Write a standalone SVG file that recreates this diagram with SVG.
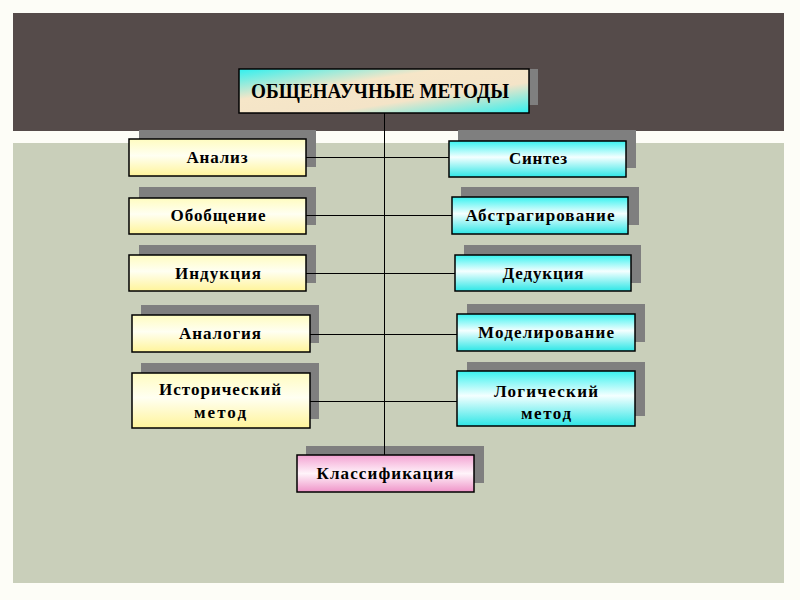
<svg xmlns="http://www.w3.org/2000/svg" width="800" height="600" viewBox="0 0 800 600">
<defs>
<linearGradient id="gy" x1="0" y1="0" x2="0" y2="1">
<stop offset="0" stop-color="#fffcc0"/><stop offset="0.45" stop-color="#fffff2"/><stop offset="1" stop-color="#fff49a"/>
</linearGradient>
<linearGradient id="gc" x1="0" y1="0" x2="0" y2="1">
<stop offset="0" stop-color="#38f2f0"/><stop offset="0.45" stop-color="#f4ffff"/><stop offset="1" stop-color="#2ee6e6"/>
</linearGradient>
<linearGradient id="gp" x1="0" y1="0" x2="0" y2="1">
<stop offset="0" stop-color="#f3a2d2"/><stop offset="0.5" stop-color="#fff4fa"/><stop offset="1" stop-color="#ef94c8"/>
</linearGradient>
<linearGradient id="gt" x1="0" y1="0" x2="1" y2="1">
<stop offset="0" stop-color="#2ff0f0"/><stop offset="0.35" stop-color="#f6e6c8"/><stop offset="0.65" stop-color="#f4e4c8"/><stop offset="1" stop-color="#2ff0f0"/>
</linearGradient>
</defs>
<style>
.sh{fill:#7f7f7f}
.bx{stroke:#000;stroke-width:1.5}
.y{fill:url(#gy)}
.c{fill:url(#gc)}
.p{fill:url(#gp)}
.t{font-family:"Liberation Serif","Times New Roman",serif;font-weight:bold;font-size:17px;fill:#000;text-anchor:middle}
.ln{stroke:#000;stroke-width:1;fill:none}
</style>
<rect x="0" y="0" width="800" height="600" fill="#fdfdf7"/>
<rect x="13" y="13" width="771" height="118" fill="#554b4a"/>
<rect x="13" y="143" width="771" height="440" fill="#c9cfba"/>

<g id="shadows">
<rect class="sh" x="247" y="69" width="291" height="36"/>
<rect class="sh" x="139" y="130" width="177" height="37"/>
<rect class="sh" x="139" y="187" width="177" height="38"/>
<rect class="sh" x="139" y="245" width="177" height="38"/>
<rect class="sh" x="141" y="305" width="178" height="38"/>
<rect class="sh" x="141" y="363" width="178" height="56"/>
<rect class="sh" x="458" y="130" width="178" height="38"/>
<rect class="sh" x="461" y="187" width="178" height="38"/>
<rect class="sh" x="464" y="245" width="177" height="38"/>
<rect class="sh" x="467" y="304" width="178" height="38"/>
<rect class="sh" x="467" y="362" width="178" height="54"/>
<rect class="sh" x="306" y="446" width="178" height="37"/>
</g>

<g id="connectors">
<line class="ln" x1="384.5" y1="113" x2="384.5" y2="455"/>
<line class="ln" x1="306" y1="157.5" x2="449" y2="157.5"/>
<line class="ln" x1="306" y1="215.5" x2="452" y2="215.5"/>
<line class="ln" x1="306" y1="273.5" x2="455" y2="273.5"/>
<line class="ln" x1="310" y1="334.5" x2="457" y2="334.5"/>
<line class="ln" x1="310" y1="401.5" x2="457" y2="401.5"/>
</g>

<g id="n-root">
<rect class="bx" x="239" y="69" width="290" height="44" fill="url(#gt)"/>
<text class="t" x="380" y="98" style="font-size:20px" textLength="258" lengthAdjust="spacingAndGlyphs">ОБЩЕНАУЧНЫЕ МЕТОДЫ</text>
</g>
<g id="n-analiz">
<rect class="bx y" x="129" y="139" width="177" height="37"/>
<text class="t" x="217" y="163" textLength="61">Анализ</text>
</g>
<g id="n-obobshchenie">
<rect class="bx y" x="129" y="198" width="177" height="36"/>
<text class="t" x="218" y="221" textLength="95">Обобщение</text>
</g>
<g id="n-indukciya">
<rect class="bx y" x="129" y="255" width="177" height="36"/>
<text class="t" x="218" y="279" textLength="86">Индукция</text>
</g>
<g id="n-analogiya">
<rect class="bx y" x="132" y="315" width="178" height="37"/>
<text class="t" x="220" y="339" textLength="82">Аналогия</text>
</g>
<g id="n-istoricheskiy">
<rect class="bx y" x="132" y="373" width="178" height="55"/>
<text class="t" x="220" y="395" textLength="122">Исторический</text>
<text class="t" x="220" y="418" textLength="52">метод</text>
</g>
<g id="n-sintez">
<rect class="bx c" x="449" y="141" width="177" height="36"/>
<text class="t" x="538" y="164" textLength="58">Синтез</text>
</g>
<g id="n-abstragirovanie">
<rect class="bx c" x="452" y="197" width="176" height="37"/>
<text class="t" x="540" y="221" textLength="149">Абстрагирование</text>
</g>
<g id="n-dedukciya">
<rect class="bx c" x="455" y="255" width="176" height="36"/>
<text class="t" x="543" y="279" textLength="81">Дедукция</text>
</g>
<g id="n-modelirovanie">
<rect class="bx c" x="457" y="314" width="178" height="37"/>
<text class="t" x="546" y="338" textLength="136">Моделирование</text>
</g>
<g id="n-logicheskiy">
<rect class="bx c" x="457" y="371" width="178" height="55"/>
<text class="t" x="546" y="397" textLength="104">Логический</text>
<text class="t" x="546" y="419" textLength="50">метод</text>
</g>
<g id="n-klassifikaciya">
<rect class="bx p" x="297" y="455" width="177" height="37"/>
<text class="t" x="385" y="479" textLength="137">Классификация</text>
</g>
</svg>
